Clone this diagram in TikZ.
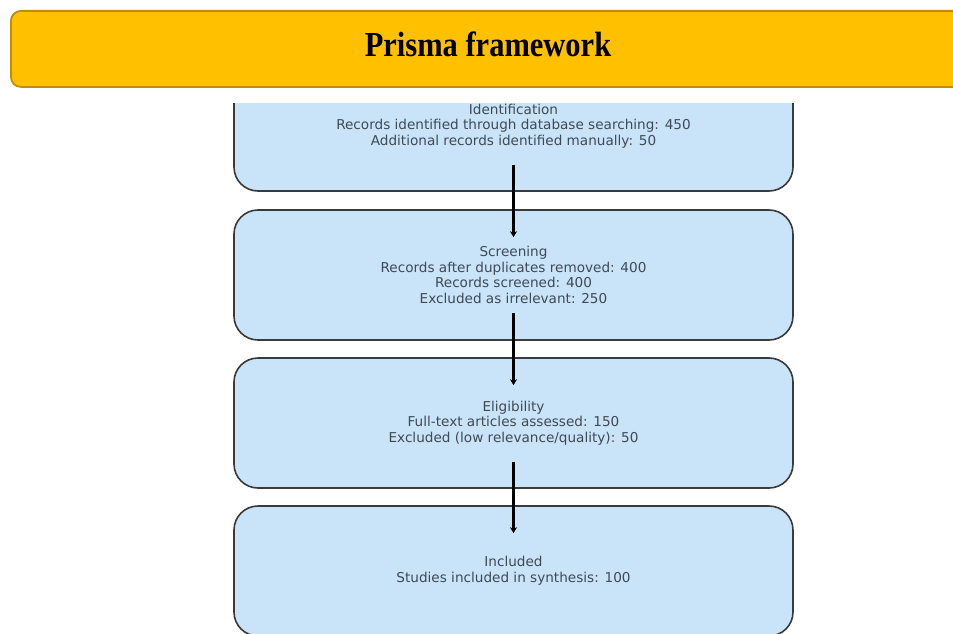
\documentclass[tikz,border=0pt]{standalone}
\usepackage{fontspec}
\setmainfont{Liberation Serif}
\newfontfamily\boxfont{DejaVu Sans}
\usetikzlibrary{arrows.meta}
\definecolor{titlefill}{HTML}{FFC000}
\definecolor{titleedge}{HTML}{C08E00}
\definecolor{boxfill}{HTML}{C9E3F9}
\definecolor{boxedge}{HTML}{3A3A3A}
\definecolor{boxtext}{HTML}{3F4A55}
\tikzset{
  stagebox/.style={draw=boxedge, line width=1.6pt, fill=boxfill, rounded corners=24pt,
    minimum width=559pt, minimum height=130pt, inner sep=0pt,
    align=center, text=boxtext,
    font=\boxfont\fontsize{13.6}{15.6}\selectfont},
  titlebox/.style={draw=titleedge, line width=1.8pt, fill=titlefill, rounded corners=10pt,
    minimum width=980pt, minimum height=76pt, inner sep=0pt},
  flowarrow/.style={line width=2.4pt, draw=black, -{Stealth[length=6pt,width=7pt]}}
}
\begin{document}
\begin{tikzpicture}[x=1pt,y=-1pt]
\useasboundingbox (0,0) rectangle (953,634);
\fill[white] (0,0) rectangle (953,634);
% title bar
\node[titlebox, anchor=north west] (title) at (10,10) {};
\node (titletext) at (488,44) {\scalebox{1}[1.15]{\fontsize{30.5}{32}\selectfont\bfseries Prisma framework}};
% boxes
\begin{scope}
\clip (0,103) rectangle (953,634);
\node[stagebox] (ident) at (513.5,126) {Identification\\Records identified through database searching: 450\\Additional records identified manually: 50};
\end{scope}
\node[stagebox] (screen) at (513.5,275) {Screening\\Records after duplicates removed: 400\\Records screened: 400\\Excluded as irrelevant: 250};
\node[stagebox] (elig) at (513.5,423) {Eligibility\\Full-text articles assessed: 150\\Excluded (low relevance/quality): 50};
\node[stagebox] (incl) at (513.5,571) {Included\\Studies included in synthesis: 100};
% arrows
\draw[flowarrow] ([yshift=27pt]ident.south) -- ([yshift=-28pt]screen.north);
\draw[flowarrow] ([yshift=28pt]screen.south) -- ([yshift=-28pt]elig.north);
\draw[flowarrow] ([yshift=27pt]elig.south) -- ([yshift=-28pt]incl.north);
\end{tikzpicture}
\end{document}
